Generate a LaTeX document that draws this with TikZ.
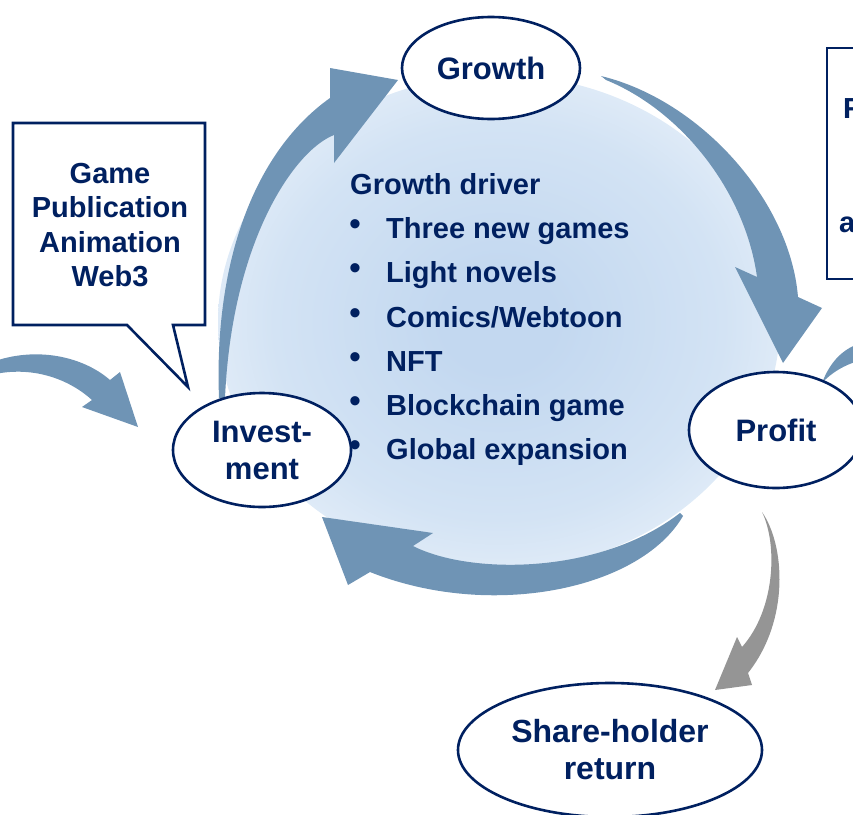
\documentclass[tikz,border=0pt]{standalone}
\usepackage{fontspec}
\setmainfont{Liberation Sans}
\usetikzlibrary{shapes.geometric}

\definecolor{navy}{HTML}{002060}
\definecolor{flow}{HTML}{6F94B5}
\definecolor{payout}{HTML}{959595}
\definecolor{coreinner}{HTML}{C3D8F0}
\definecolor{coremid}{HTML}{D3E3F4}
\definecolor{coreouter}{HTML}{F4F8FD}

% soft glow for the core of the cycle: blue centre, fading to the rim
\pgfdeclareradialshading{coreglow}{\pgfpoint{0bp}{0bp}}{%
  color(0bp)=(coreinner); color(5bp)=(coreinner);
  color(20bp)=(coremid); color(35bp)=(coreouter); color(50bp)=(coreouter)}

\begin{document}
\begin{tikzpicture}[x=1pt, y=-1pt,
  stage/.style={ellipse, draw=navy, line width=2.6pt, fill=white, inner sep=0pt,
    text=navy, align=center, font=\fontsize{31}{37}\selectfont\bfseries},
  note/.style={draw=navy, line width=2.6pt, fill=white},
  notetext/.style={text=navy, align=center, inner sep=0pt,
    font=\fontsize{29}{34.3}\selectfont\bfseries},
  listtext/.style={anchor=base west, text=navy, inner sep=0pt,
    font=\fontsize{29}{35}\selectfont\bfseries},
  listbullet/.style={text=navy, inner sep=0pt, font=\fontsize{34}{34}\selectfont},
  flowarrow/.style={fill=flow, draw=none},
  payoutarrow/.style={fill=payout, draw=none}]

\useasboundingbox (0,0) rectangle (853,814);
\clip (0,0) rectangle (853,814);

% shaded core of the cycle
\shade[shading=coreglow]
  (499,322) ellipse [x radius=281, y radius=247];

% cycle arrows
% investment -> growth
\fill[flowarrow] (219,398) .. controls (214,270) and (250,155) .. (330,98)
  -- (330,68) -- (398,80) -- (334,163) -- (334,135)
  .. controls (295,150) and (232,240) .. (225,398) -- cycle;
% growth -> profit
\fill[flowarrow] (601,76) .. controls (700,100) and (790,200) .. (798,297)
  -- (822,308) -- (783,363) -- (735,267) -- (757,277)
  .. controls (745,190) and (680,110) .. (606,80) -- cycle;
% profit -> investment
\fill[flowarrow] (680,513) .. controls (600,575) and (470,575) .. (413,546)
  -- (433,533) -- (322,517) -- (348,585) -- (370,572)
  .. controls (490,620) and (640,590) .. (683,516) -- cycle;
% inflow from the left
\fill[flowarrow] (-5,361) .. controls (40,346) and (85,358) .. (110,380)
  -- (120,372) -- (138,427) -- (82,407) -- (92,400)
  .. controls (70,380) and (35,366) .. (-5,374) -- cycle;
% outflow to the right
\fill[flowarrow] (822,383) .. controls (830,362) and (842,350) .. (858,344)
  -- (858,361) .. controls (845,365) and (832,372) .. (822,383) -- cycle;
% payout to shareholders
\fill[payoutarrow] (762,512) .. controls (785,545) and (790,620) .. (748,673)
  -- (752,685) -- (715,690) -- (737,637) -- (742,647)
  .. controls (775,610) and (778,545) .. (762,512) -- cycle;

% growth drivers
\node[listtext] (driverhead) at (350,194) {Growth driver};
\foreach \name/\y/\txt in {games/238/{Three new games}, novels/282/{Light novels},
    comics/327/{Comics/Webtoon}, nft/371/{NFT}, chain/415/{Blockchain game},
    global/459/{Global expansion}} {
  \node[listbullet] (bullet-\name) at (355,\y-10) {•};
  \node[listtext] (item-\name) at (386,\y) {\txt};
}

% stages of the cycle
\node[stage, minimum width=178pt, minimum height=102pt] (growth) at (491,68) {Growth};
\node[stage, minimum width=178pt, minimum height=114pt] (investment) at (262,450) {Invest-\\ment};
\node[stage, minimum width=174pt, minimum height=116pt] (profit) at (776,430) {Profit};
\node[stage, minimum width=304pt, minimum height=134pt,
  font=\fontsize{32}{37}\selectfont\bfseries] (return) at (610,750) {Share-holder\\return};

% business areas callout
\draw[note] (13,123) -- (205,123) -- (205,325) -- (173,325) -- (188,387)
  -- (127,325) -- (13,325) -- cycle;
\node[notetext] (areas) at (110,225) {Game\\Publication\\Animation\\Web3};

% box at the right edge
\draw[note] (827,48) rectangle (900,279);
\node[listtext] (sidefirst) at (843,118) {R};
\node[listtext] (sidelast) at (839,232) {a};

\end{tikzpicture}
\end{document}
